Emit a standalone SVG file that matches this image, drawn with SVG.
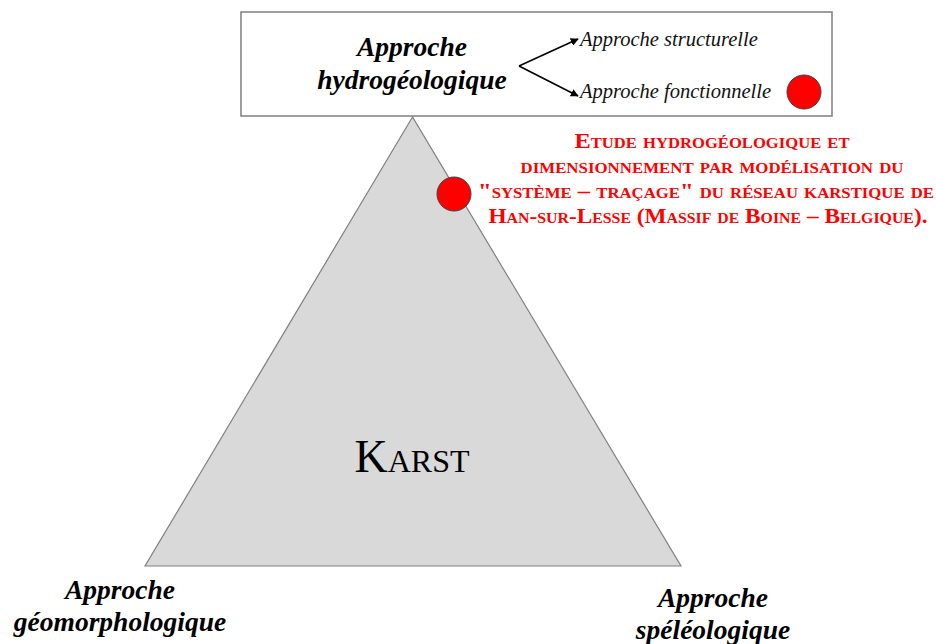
<svg xmlns="http://www.w3.org/2000/svg" width="936" height="644" viewBox="0 0 936 644">
<defs>
<style>
.bi{font-family:"Liberation Serif","Times New Roman",serif;font-weight:bold;font-style:italic;font-size:27.5px;fill:#000;text-anchor:middle}
.it{font-family:"Liberation Serif","Times New Roman",serif;font-style:italic;font-size:20.5px;fill:#111}
.red{font-family:"Liberation Serif","Times New Roman",serif;font-weight:bold;font-variant:small-caps;font-size:22px;fill:#ff0000;text-anchor:middle}
.dot{fill:#ff0000;stroke:#404040;stroke-width:1}
</style>
<marker id="ah" viewBox="0 0 10 10" refX="9" refY="5" markerWidth="8" markerHeight="8" orient="auto" markerUnits="userSpaceOnUse">
<path d="M0,0 L10,5 L0,10 z" fill="#000"/>
</marker>
</defs>
<rect width="936" height="644" fill="#fff"/>
<g id="karst">
<polygon points="412.5,117 145,566 681,566" fill="#d9d9d9" stroke="#808080" stroke-width="1.2"/>
<text x="412" y="472" font-family="Liberation Serif,'Times New Roman',serif" font-size="46" font-variant="small-caps" text-anchor="middle" fill="#000">Karst</text>
</g>
<g id="hydro">
<rect x="241" y="12" width="591" height="104" fill="#fff" stroke="#7f7f7f" stroke-width="1.5"/>
<text class="bi" x="412" y="56">Approche</text>
<text class="bi" x="412" y="89">hydrogéologique</text>
<text class="it" x="580" y="46">Approche structurelle</text>
<text class="it" x="580" y="98">Approche fonctionnelle</text>
<circle class="dot" cx="804" cy="92" r="17"/>
</g>
<g id="connectors">
<line x1="519" y1="66" x2="578" y2="39" stroke="#000" stroke-width="1.5" marker-end="url(#ah)"/>
<line x1="519" y1="66" x2="578" y2="96" stroke="#000" stroke-width="1.5" marker-end="url(#ah)"/>
</g>
<g id="etude">
<circle class="dot" cx="454" cy="194" r="17"/>
<text class="red" x="712" y="148" textLength="275" lengthAdjust="spacingAndGlyphs">Etude hydrogéologique et</text>
<text class="red" x="712" y="173" textLength="383" lengthAdjust="spacingAndGlyphs">dimensionnement par modélisation du</text>
<text class="red" x="706" y="198" textLength="456" lengthAdjust="spacingAndGlyphs">"système – traçage" du réseau karstique de</text>
<text class="red" x="708" y="223" textLength="439" lengthAdjust="spacingAndGlyphs">Han-sur-Lesse (Massif de Boine – Belgique).</text>
</g>
<g id="geomorpho">
<text class="bi" x="120" y="599">Approche</text>
<text class="bi" x="120" y="631">géomorphologique</text>
</g>
<g id="speleo">
<text class="bi" x="713" y="607">Approche</text>
<text class="bi" x="713" y="639">spéléologique</text>
</g>
</svg>
